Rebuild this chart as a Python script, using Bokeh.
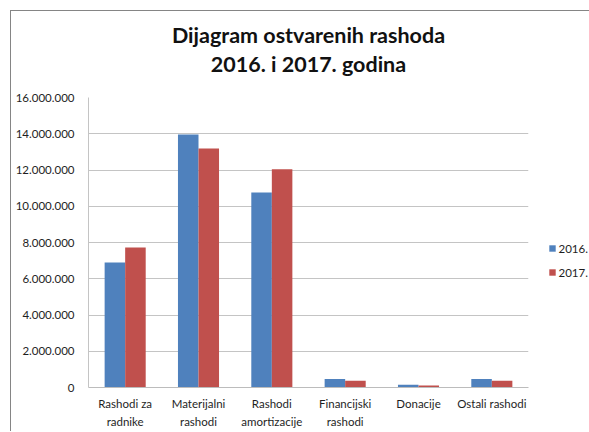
from bokeh.plotting import figure
from bokeh.models import FactorRange, Range1d, FixedTicker, Legend, LegendItem, CategoricalAxis
from bokeh.transform import dodge
from bokeh.embed import file_html
from bokeh.resources import INLINE

# ---- data ----
categories = ["Rashodi za\nradnike", "Materijalni\nrashodi", "Rashodi\namortizacije",
              "Financijski\nrashodi", "Donacije", "Ostali rashodi"]
series_names = ["2016.", "2017."]
values_2016 = [6890000, 13960000, 10760000, 470000, 150000, 470000]
values_2017 = [7720000, 13180000, 12040000, 370000, 110000, 370000]
y_ticks = [0, 2000000, 4000000, 6000000, 8000000, 10000000, 12000000, 14000000, 16000000]
y_tick_labels = ["0", "2.000.000", "4.000.000", "6.000.000", "8.000.000",
                 "10.000.000", "12.000.000", "14.000.000", "16.000.000"]
title_lines = ["Dijagram ostvarenih rashoda", "2016. i 2017. godina"]

FONT = "Lato"
TXT = "#1e1e1e"
GRID = "#c4c4c4"
EDGE = "#858585"

p = figure(x_range=FactorRange(factors=categories, range_padding=0),
           y_range=Range1d(0, 16000000),
           frame_width=440, frame_height=290,
           min_border_left=88, min_border_top=97, min_border_right=60, min_border_bottom=44,
           output_backend="svg", toolbar_location=None)
# chart-area edge lines (left and top) drawn as a CSS background behind a transparent border area
p.styles = {"background-color": "white",
            "background-image": f"linear-gradient({EDGE}, {EDGE}), linear-gradient({EDGE}, {EDGE})",
            "background-size": "100% 1px, 1px 100%",
            "background-position": "10px 10px, 10px 10px",
            "background-repeat": "no-repeat"}
p.border_fill_color = None

src = {"cat": categories, "a": values_2016, "b": values_2017}
r1 = p.vbar(x=dodge("cat", -0.14, range=p.x_range), top="a", width=0.28, source=src,
            fill_color="#4F81BD", line_color=None)
r2 = p.vbar(x=dodge("cat", 0.14, range=p.x_range), top="b", width=0.28, source=src,
            fill_color="#C0504D", line_color=None)

p.outline_line_color = None
p.background_fill_color = "white"
p.xgrid.grid_line_color = None
p.ygrid.grid_line_color = GRID
p.ygrid.ticker = FixedTicker(ticks=y_ticks)

ya = p.yaxis[0]
ya.ticker = FixedTicker(ticks=y_ticks)
ya.major_label_overrides = {t: l for t, l in zip(y_ticks, y_tick_labels)}
ya.axis_line_color = GRID
ya.major_tick_line_color = None
ya.minor_tick_line_color = None
ya.major_tick_out = 0
ya.major_tick_in = 0
ya.major_label_standoff = 14
ya.major_label_text_font = FONT
ya.major_label_text_font_size = "11.5px"
ya.major_label_text_color = TXT

xa = p.xaxis[0]
xa.axis_line_color = "#bcbcbc"
xa.major_tick_line_color = None
xa.major_tick_out = 0
xa.major_tick_in = 0
xa.major_label_standoff = 9
xa.major_label_text_font = FONT
xa.major_label_text_font_size = "11.5px"
xa.major_label_text_color = TXT
xa.major_label_text_line_height = 1.39

legend = Legend(items=[LegendItem(label=series_names[0], renderers=[r1]),
                       LegendItem(label=series_names[1], renderers=[r2])],
                location=(19.5, 107.7), padding=0, margin=0, spacing=10,
                glyph_width=8, glyph_height=8, label_height=14, label_standoff=3,
                label_text_font=FONT, label_text_font_size="11.5px",
                label_text_color=TXT, border_line_color=None, background_fill_alpha=0)
p.add_layout(legend, "right")

# two-line centred chart title, drawn as the single label of a top categorical axis
p.extra_x_ranges = {"title": FactorRange(factors=["\n".join(title_lines)], range_padding=0)}
tax = CategoricalAxis(x_range_name="title", axis_line_color=None,
                      major_tick_line_color=None, minor_tick_line_color=None,
                      major_tick_out=0, major_tick_in=0, major_label_standoff=21,
                      major_label_text_font=FONT, major_label_text_font_style="bold",
                      major_label_text_font_size="21.5px", major_label_text_color="#111111",
                      major_label_text_line_height=1.1)
p.add_layout(tax, "above")

open("out.html", "w").write(file_html(p, INLINE))
